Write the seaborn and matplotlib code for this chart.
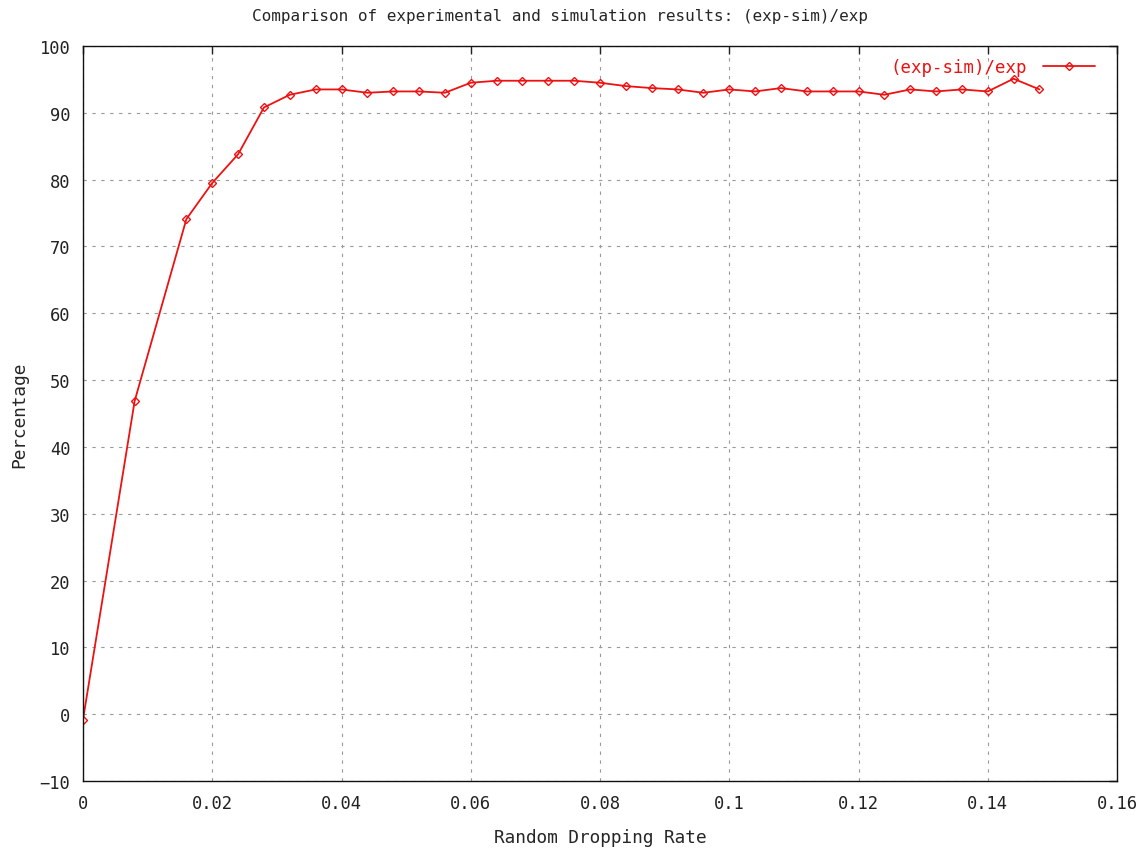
import numpy as np
import pandas as pd
import matplotlib
matplotlib.use("Agg")
import matplotlib.pyplot as plt
import seaborn as sns

rate = [0.000, 0.008, 0.016, 0.020, 0.024, 0.028, 0.032, 0.036, 0.040, 0.044,
        0.048, 0.052, 0.056, 0.060, 0.064, 0.068, 0.072, 0.076, 0.080, 0.084,
        0.088, 0.092, 0.096, 0.100, 0.104, 0.108, 0.112, 0.116, 0.120, 0.124,
        0.128, 0.132, 0.136, 0.140, 0.144, 0.148]
percentage = [-0.8, 46.9, 74.1, 79.5, 83.8, 90.8, 92.7, 93.5, 93.5, 93.0,
              93.2, 93.2, 93.0, 94.5, 94.8, 94.8, 94.8, 94.8, 94.5, 94.0,
              93.7, 93.5, 93.0, 93.5, 93.2, 93.7, 93.2, 93.2, 93.2, 92.7,
              93.5, 93.2, 93.5, 93.2, 95.1, 93.5]
series_name = "(exp-sim)/exp"
title = "Comparison of experimental and simulation results: (exp-sim)/exp"
xlabel = "Random Dropping Rate"
ylabel = "Percentage"
xticks = [0, 0.02, 0.04, 0.06, 0.08, 0.1, 0.12, 0.14, 0.16]
xtick_labels = ["0", "0.02", "0.04", "0.06", "0.08", "0.1", "0.12", "0.14", "0.16"]
yticks = list(range(-10, 101, 10))

df = pd.DataFrame({"rate": rate, "pct": percentage, "series": series_name})

sns.set_style("white")
plt.rcParams["font.family"] = ["DejaVu Sans Mono"]

W, H = 1143, 853
L, R, T, B = 83, 1117, 47, 782
fig = plt.figure(figsize=(W / 100, H / 100), dpi=100)
ax = fig.add_axes([L / W, 1 - B / H, (R - L) / W, (B - T) / H])

red = "#ee1111"
sns.lineplot(data=df, x="rate", y="pct", hue="series", palette=[red],
             marker="D", markersize=4.0, markerfacecolor="none",
             markeredgecolor=red, markeredgewidth=1.0, linewidth=1.3,
             ax=ax)

ax.set_xlim(0, 0.16)
ax.set_ylim(-10, 100)
ax.set_xticks(xticks)
ax.set_xticklabels(xtick_labels)
ax.set_yticks(yticks)
ax.tick_params(direction="in", length=6, width=1.0, top=True, right=True,
               labelsize=12.3, colors="#222222")
ax.tick_params(axis="x", labeltop=False, pad=9.5)
ax.tick_params(axis="y", labelright=False, pad=9)
for sp in ax.spines.values():
    sp.set_linewidth(1.0)
    sp.set_color("#111111")
ax.grid(True, linestyle=(0, (3, 5)), color="#999999", linewidth=0.8)

ax.set_xlabel(xlabel, fontsize=12.8, va="center")
ax.set_ylabel(ylabel, fontsize=12.8, va="center")
ax.xaxis.set_label_coords(0.5, (B - 838) / (B - T))
ax.yaxis.set_label_coords((19 - L) / (R - L), 0.5)
fig.text(560 / W, 1 - 16 / H, title, ha="center", va="center", fontsize=11.5)

leg = ax.legend(loc="center right",
                bbox_to_anchor=((1095 - L) / (R - L), 1 - (68 - T) / (B - T)),
                frameon=False, fontsize=12.5, markerfirst=False,
                handlelength=3.0, handletextpad=0.9, borderaxespad=0,
                borderpad=0)
for t in leg.get_texts():
    t.set_color(red)

fig.savefig("out.png", dpi=100)
